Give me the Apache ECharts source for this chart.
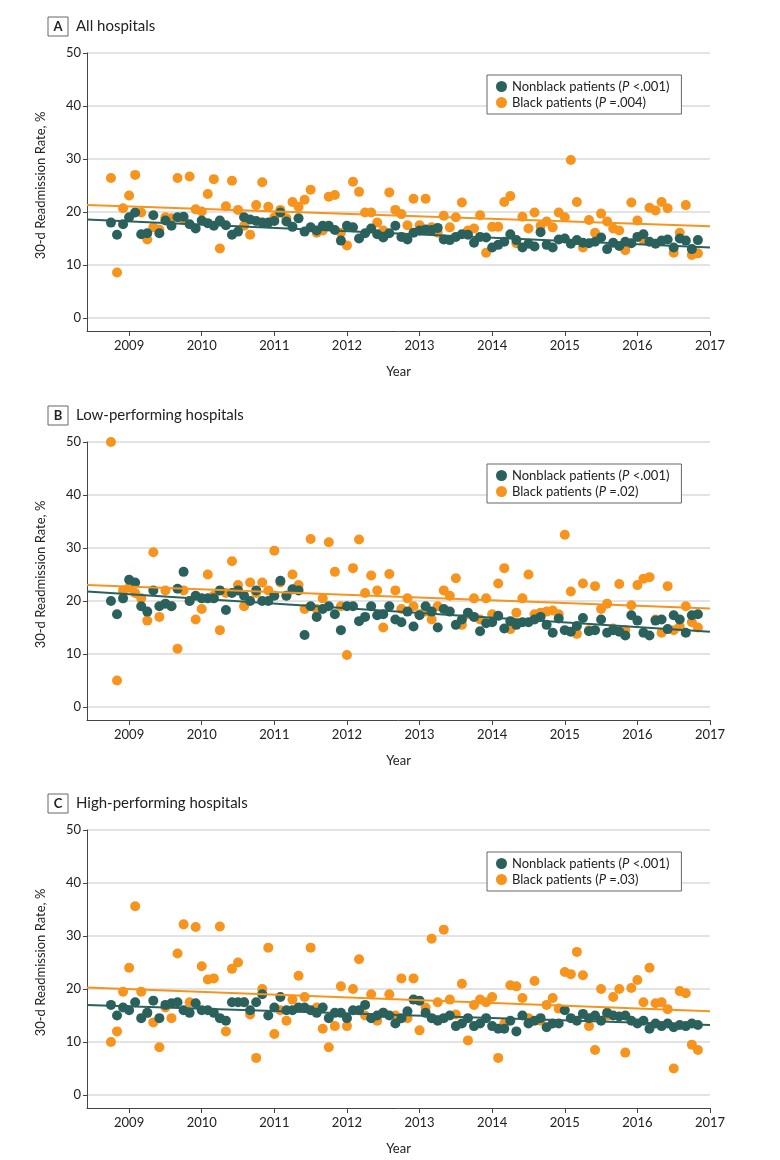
<!DOCTYPE html>
<html><head><meta charset="utf-8">
<script src="https://cdn.jsdelivr.net/npm/echarts@6/dist/echarts.min.js"></script>
<style>html,body{margin:0;padding:0;background:#fff}#c{width:780px;height:1160px}</style>
</head><body><div id="c"></div>
<script>
// ---------- data ----------
const firstMonth = '2008-10';
const monthCount = 98;
const yearTicks = [2009, 2010, 2011, 2012, 2013, 2014, 2015, 2016, 2017];
const yTicks = [0, 10, 20, 30, 40, 50];
const panelLetters = ['A', 'B', 'C'];
const panelTitles = ['All hospitals', 'Low-performing hospitals', 'High-performing hospitals'];
const pNonblack = ['<.001', '<.001', '<.001'];
const pBlack = ['=.004', '=.02', '=.03'];

const nonblackA = [18.0,15.7,17.7,19.0,19.9,15.8,16.0,19.4,16.0,18.4,17.4,19.0,19.1,17.7,16.9,18.4,17.9,17.4,18.4,17.5,15.7,16.3,19.0,18.6,18.3,18.0,18.0,18.3,19.9,18.2,17.2,18.8,16.3,
  17.1,16.5,17.4,17.4,16.6,14.6,17.4,17.1,15.0,16.0,16.9,15.8,15.2,16.0,17.4,15.3,14.8,16.1,16.5,16.7,16.6,17.0,14.8,14.7,15.3,15.8,15.7,14.2,15.3,15.2,13.3,13.8,14.4,15.8,
  14.7,13.3,14.0,13.5,16.2,13.8,13.3,14.8,15.0,14.0,14.7,14.2,14.1,14.4,15.2,13.0,14.2,13.6,14.4,14.1,15.3,15.8,14.4,14.0,14.6,14.8,13.3,15.0,14.6,13.0,14.7];
const blackA = [26.4,8.6,20.7,23.1,27.0,19.9,14.8,17.1,16.7,19.0,18.8,26.4,18.5,26.7,20.5,20.1,23.4,26.2,13.1,21.1,25.9,20.4,17.4,15.7,21.3,25.6,21.0,19.0,20.4,18.8,21.9,21.0,22.3,
  24.2,16.1,16.5,22.9,23.2,16.1,13.7,25.7,23.8,19.9,19.9,18.0,16.5,23.7,20.4,19.6,17.5,22.5,17.5,22.5,17.1,16.1,19.3,17.1,19.0,21.8,16.5,16.9,19.4,12.3,17.2,17.2,21.9,23.0,
  14.1,19.1,16.9,19.9,17.4,18.2,17.1,19.9,19.0,29.8,21.9,13.3,18.5,16.1,19.7,18.2,16.9,16.5,12.8,21.8,18.4,14.7,20.8,20.3,21.9,20.7,12.3,16.1,21.3,11.9,12.2];

const nonblackB = [20,17.5,20.5,24,23.5,19,18,22,19,19.5,19,22.3,25.5,20,21,20.5,20.5,20.5,22,18.3,21.5,22,21,20,22,20,20,21,23.8,21,22.2,22,13.6,
  19,17,18.5,19,17.5,14.5,19,19,16.2,17,19,17.3,17.5,19,16.5,16,18,15.2,17.3,19,18,15,18.5,18,15.5,16.5,17.8,17,14.3,15.8,16,17.2,14.8,
  16.2,15.5,16,16,16.5,17,15.5,14,16.7,14.5,14.2,15.3,16.8,14.3,14.5,16.5,14,14.5,14.2,13.5,17.3,16.3,14,13.5,16.3,16.5,14.7,17.3,16.5,14,17.3,17.5];
const blackB = [50,5,22,22.5,21.5,20.5,16.3,29.2,17,22,19,11,22,20,16.5,18.5,25,21,14.5,21.5,27.5,23,19,23.5,21.5,23.5,22,29.5,23.5,21,25,23,18.5,
  31.7,18.5,20.5,31.1,25.5,19,9.8,26.2,31.6,21.5,24.8,22,15,25.1,22,18.5,20.5,19,17.5,18,16.5,19,22,21,24.3,15.5,17.5,20.5,16.5,20.5,17.5,23.3,26.2,14.7,
  17.8,20.5,25,17.5,17.8,18,18.2,17.5,32.5,21.8,13.8,23.3,14.5,22.8,18.5,19.5,14.8,23.2,14.5,19.2,23,24.2,24.5,16.5,14,22.8,14.5,15.2,19,16,15];

const nonblackC = [17,15,16.5,16,17.5,14.5,15.5,17.8,14.5,17,17.3,17.5,16,15.5,17.3,16,16,15.5,14.5,14,17.5,17.5,17.5,16,17.5,19,15,16.5,18.5,16,
  16,16.5,16.5,16,15.5,16.5,14.5,15.5,15.5,14.5,16,16,17,14.5,15,15.5,15,13.5,14.5,15.8,18,17.8,15.5,14.5,14,14.5,15,13,13.5,14.5,
  13,13.5,14.5,13,12.5,12.5,14,12,15,13.5,14,14.5,12.8,13.5,13.5,16,14.5,14,15.3,14.5,15,14,15.5,15,14.8,15,14,13.5,14,12.5,13.5,13,13.5,12.8,13.2,13,13.5,13.2];
const blackC = [10,12,19.5,24,35.6,19.5,15.5,13.7,9,16.5,14.5,26.7,32.2,17.5,31.7,24.3,21.8,22,31.8,12,23.8,25,17.5,15.2,7,20,27.8,11.5,16,14,
  18,22.5,18.5,27.8,16.5,12.5,9,13,20.5,13,20,25.6,15,19,14,15.5,19,15,22,14.5,22,12.2,16.5,29.5,17.5,31.2,18,15.2,21,10.3,
  17,18,17.5,18.5,7,13.5,20.7,20.5,18.3,14.5,21.5,14,17,18.3,16.3,23.2,22.8,27,22.6,13,8.5,20,15,18.5,20,8,20.2,21.7,17.5,24,17.3,17.5,16.2,5,19.6,19.2,9.5,8.5];

// fitted trend lines: values at left and right ends of the year axis
const trendNonblack = [[18.6, 13.3], [21.8, 14.2], [17.0, 13.2]];
const trendBlack = [[21.3, 17.3], [23.0, 18.6], [20.3, 15.8]];

const nonblack = [nonblackA, nonblackB, nonblackC];
const black = [blackA, blackB, blackC];

// ---------- layout / style ----------
const X_MIN = 2008.42, X_MAX = 2017;
const PANEL_TOP = [53, 442, 830];
const PLOT_H = 265, FRAME_H = 278, LEFT = 87, RIGHT = 70;
const COL_NB = '#2b615c', COL_B = '#f7941e';
const FONT = 'Lato';

function monthYear(k) {
  const [y, m] = firstMonth.split('-').map(Number);
  const t = (m - 1) + k;
  return y + Math.floor(t / 12) + (t % 12) / 12;
}
const xs = [];
for (let k = 0; k < monthCount; k++) xs.push(monthYear(k));

const option = { animation: false, title: [], grid: [], xAxis: [], yAxis: [], legend: [], series: [] };

for (let p = 0; p < 3; p++) {
  const T = PANEL_TOP[p];
  const gData = p * 2, gFrame = p * 2 + 1;
  option.title.push({
    left: 43, top: T - 41,
    text: '{b|' + panelLetters[p] + '}{t|' + panelTitles[p] + '}',
    textStyle: { fontWeight: 'normal', rich: {
      b: { fontFamily: FONT, fontWeight: 'bold', fontSize: 13, color: '#222', borderColor: '#666', borderWidth: 1, width: 10, height: 14, align: 'center', padding: [3, 5, 2, 5] },
      t: { fontFamily: FONT, fontWeight: 'normal', fontSize: 15, color: '#222', padding: [0, 0, 0, 8] }
    } }
  });
  option.grid.push({ left: LEFT, right: RIGHT, top: T, height: PLOT_H });
  option.grid.push({ left: LEFT, right: RIGHT, top: T, height: FRAME_H });
  option.xAxis.push({ gridIndex: gData, type: 'value', min: X_MIN, max: X_MAX, show: false });
  option.xAxis.push({
    gridIndex: gFrame, type: 'value', min: X_MIN, max: X_MAX,
    name: 'Year', nameLocation: 'middle', nameGap: 34,
    nameTextStyle: { fontFamily: FONT, fontSize: 13, color: '#222' },
    axisLine: { show: true, onZero: false, lineStyle: { color: '#444', width: 1 } },
    axisTick: { show: true, length: 5, customValues: yearTicks, lineStyle: { color: '#444' } },
    axisLabel: { customValues: yearTicks, fontFamily: FONT, fontSize: 13, color: '#222', margin: 8, formatter: v => String(v) },
    splitLine: { show: false }
  });
  option.yAxis.push({
    gridIndex: gData, type: 'value', min: 0, max: 50, interval: 10,
    name: '30-d Readmission Rate, %', nameLocation: 'middle', nameGap: 40,
    nameTextStyle: { fontFamily: FONT, fontSize: 13, color: '#222' },
    axisLine: { show: false },
    axisTick: { show: true, length: 4, lineStyle: { color: '#444' } },
    axisLabel: { fontFamily: FONT, fontSize: 13, color: '#222', margin: 6 },
    splitLine: { show: true, lineStyle: { color: '#dadada', width: 1.5 } }
  });
  option.yAxis.push({
    gridIndex: gFrame, type: 'value', min: -2.5, max: 50,
    axisLine: { show: true, onZero: false, lineStyle: { color: '#444', width: 1 } },
    axisTick: { show: false }, axisLabel: { show: false }, splitLine: { show: false }
  });
  const nbName = panelLetters[p] + '-nb', bName = panelLetters[p] + '-b';
  option.legend.push({
    left: 487, top: T + 22, orient: 'vertical', itemGap: 3, itemWidth: 11, itemHeight: 11,
    icon: 'circle', borderColor: '#666', borderWidth: 1, borderRadius: 0, padding: [5, 12, 5, 9],
    backgroundColor: '#fff', data: [nbName, bName], selectedMode: false,
    formatter: (n) => n.endsWith('-nb')
      ? 'Nonblack patients ({i|P} ' + pNonblack[p] + ')'
      : 'Black patients ({i|P} ' + pBlack[p] + ')',
    textStyle: { fontFamily: FONT, fontSize: 13, color: '#222', rich: { i: { fontFamily: FONT, fontSize: 13, fontStyle: 'italic', color: '#222' } } }
  });
  option.series.push({
    name: bName, type: 'scatter', xAxisIndex: gData, yAxisIndex: gData, symbolSize: 10,
    itemStyle: { color: COL_B, opacity: 1 }, data: black[p].map((v, k) => [xs[k], v]), z: 2
  });
  option.series.push({
    name: nbName, type: 'scatter', xAxisIndex: gData, yAxisIndex: gData, symbolSize: 10,
    itemStyle: { color: COL_NB, opacity: 1 }, data: nonblack[p].map((v, k) => [xs[k], v]), z: 3
  });
  option.series.push({
    type: 'line', xAxisIndex: gData, yAxisIndex: gData, showSymbol: false, silent: true, z: 4,
    lineStyle: { color: COL_B, width: 2 }, data: [[X_MIN, trendBlack[p][0]], [X_MAX, trendBlack[p][1]]]
  });
  option.series.push({
    type: 'line', xAxisIndex: gData, yAxisIndex: gData, showSymbol: false, silent: true, z: 4,
    lineStyle: { color: COL_NB, width: 2 }, data: [[X_MIN, trendNonblack[p][0]], [X_MAX, trendNonblack[p][1]]]
  });
}

const chart = echarts.init(document.getElementById('c'), null, { renderer: 'canvas' });
chart.setOption(option);
</script>
</body></html>
